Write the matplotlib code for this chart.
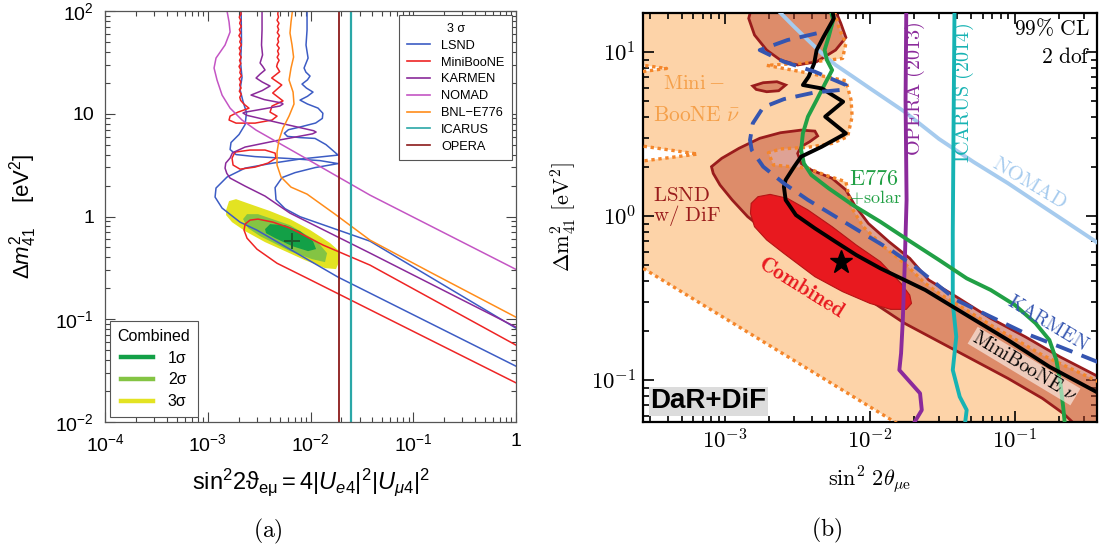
import numpy as np
import matplotlib
matplotlib.use("Agg")
import matplotlib.pyplot as plt
from matplotlib.lines import Line2D
from matplotlib.ticker import NullFormatter

plt.rcParams['font.family'] = ['Liberation Sans', 'DejaVu Sans']
plt.rcParams['mathtext.fontset'] = 'custom'
plt.rcParams['mathtext.rm'] = 'Liberation Sans'
plt.rcParams['mathtext.it'] = 'Liberation Sans:italic'
plt.rcParams['mathtext.bf'] = 'Liberation Sans:bold'

# Every curve below is a list of (log10 sin^2 2theta, log10 dm^2_41 / eV^2) pairs.

# ---------------- panel (a): 3 sigma regions ----------------
COMB_3S = [(-2.822, 0.062), (-2.793, 0.150), (-2.725, 0.169), (-2.589, 0.121), (-2.394, 0.053),
           (-2.200, -0.025), (-2.005, -0.131), (-1.810, -0.258), (-1.732, -0.327), (-1.723, -0.443),
           (-1.752, -0.512), (-1.859, -0.502), (-2.054, -0.425), (-2.248, -0.337), (-2.443, -0.249),
           (-2.637, -0.142), (-2.764, -0.055), (-2.822, 0.014)]
COMB_2S = [(-2.657, -0.025), (-2.618, 0.023), (-2.511, 0.023), (-2.200, -0.084), (-1.937, -0.240),
           (-1.839, -0.357), (-1.859, -0.444), (-1.985, -0.415), (-2.200, -0.337), (-2.491, -0.191),
           (-2.608, -0.113)]
COMB_1S = [(-2.443, -0.123), (-2.394, -0.074), (-2.248, -0.084), (-2.102, -0.142), (-1.976, -0.240),
           (-1.946, -0.317), (-2.024, -0.337), (-2.180, -0.288), (-2.345, -0.210), (-2.433, -0.162)]
BEST_FIT_A = (-2.183, -0.24)

LSND_A = [(-2.676, 2.05), (-2.672, 1.693), (-2.681, 1.499), (-2.667, 1.353), (-2.686, 1.236),
          (-2.657, 1.119), (-2.623, 1.012), (-2.637, 0.895), (-2.696, 0.798), (-2.774, 0.720),
          (-2.783, 0.652), (-2.725, 0.603), (-2.540, 0.583), (-2.200, 0.564), (-1.908, 0.544),
          (-1.732, 0.515), (-1.956, 0.476), (-2.151, 0.427), (-2.277, 0.379), (-2.345, 0.281),
          (-2.336, 0.164), (-2.248, 0.076), (-2.102, -0.002), (-1.421, -0.240), (0.0, -1.087)]
LSND_B = [(-2.034, 2.05), (-2.034, 1.815), (-2.044, 1.669), (-2.024, 1.542), (-2.045, 1.49),
          (-2.063, 1.445), (-2.045, 1.405), (-2.005, 1.367), (-2.03, 1.33), (-2.083, 1.289),
          (-2.04, 1.25), (-1.976, 1.211), (-2.03, 1.17), (-2.102, 1.133), (-2.03, 1.095),
          (-1.927, 1.055), (-1.88, 1.005), (-1.885, 0.955), (-1.95, 0.91), (-2.102, 0.871),
          (-2.215, 0.845), (-2.255, 0.81), (-2.225, 0.78), (-2.10, 0.768), (-1.956, 0.76),
          (-1.85, 0.70), (-1.810, 0.666), (-1.732, 0.598), (-2.102, 0.559), (-2.365, 0.520),
          (-2.637, 0.471), (-2.813, 0.384), (-2.920, 0.277), (-2.929, 0.189), (-2.861, 0.082),
          (-2.686, -0.055), (-2.521, -0.133), (-1.732, -0.590), (0.0, -1.457)]

MB_TOP = [(-2.686, 2.05), (-2.676, 1.97), (-2.694, 1.94), (-2.679, 1.91), (-2.690, 1.88),
          (-2.674, 1.85), (-2.693, 1.82), (-2.680, 1.79), (-2.697, 1.76), (-2.677, 1.73),
          (-2.689, 1.70), (-2.673, 1.67), (-2.695, 1.64), (-2.681, 1.61), (-2.692, 1.58),
          (-2.675, 1.55), (-2.691, 1.52), (-2.678, 1.49), (-2.696, 1.46), (-2.680, 1.43),
          (-2.688, 1.40), (-2.672, 1.37), (-2.694, 1.34), (-2.679, 1.31), (-2.690, 1.28),
          (-2.676, 1.25), (-2.693, 1.22), (-2.674, 1.19), (-2.689, 1.16), (-2.680, 1.13),
          (-2.647, 1.093), (-2.599, 1.054), (-2.706, 1.016), (-2.783, 0.977), (-2.793, 0.939),
          (-2.725, 0.909), (-2.540, 0.909), (-2.375, 0.939), (-2.326, 0.977), (-2.394, 1.016),
          (-2.375, 1.075), (-2.268, 1.125), (-2.368, 1.202), (-2.280, 1.280), (-2.378, 1.348),
          (-2.300, 1.41), (-2.330, 1.46), (-2.322, 1.49), (-2.306, 1.52), (-2.325, 1.55),
          (-2.309, 1.58), (-2.321, 1.61), (-2.305, 1.64), (-2.327, 1.67), (-2.311, 1.70),
          (-2.320, 1.73), (-2.303, 1.76), (-2.324, 1.79), (-2.310, 1.82), (-2.322, 1.85),
          (-2.307, 1.88), (-2.326, 1.91), (-2.312, 1.94), (-2.319, 1.97), (-2.309, 2.05)]
MB_ISLAND = [(-2.735, 0.627), (-2.589, 0.647), (-2.443, 0.647), (-2.345, 0.617), (-2.336, 0.569),
             (-2.414, 0.520), (-2.540, 0.481), (-2.686, 0.461), (-2.754, 0.501), (-2.764, 0.569),
             (-2.735, 0.627)]
MB_BAND = [(0.0, -1.252), (-1.421, -0.473), (-1.878, -0.278), (-2.200, -0.113), (-2.365, -0.055),
           (-2.511, -0.025), (-2.589, -0.035), (-2.637, -0.074), (-2.647, -0.133), (-2.618, -0.211),
           (-2.521, -0.318), (-2.326, -0.455), (-2.034, -0.600), (0.0, -1.619)]

KARMEN_A = [(-2.472, 2.05), (-2.472, 1.815), (-2.477, 1.669), (-2.467, 1.572), (-2.491, 1.494),
            (-2.465, 1.46), (-2.443, 1.426), (-2.49, 1.387), (-2.530, 1.348), (-2.47, 1.309),
            (-2.394, 1.270), (-2.47, 1.226), (-2.579, 1.182), (-2.45, 1.138), (-2.28, 1.105),
            (-2.268, 1.095), (-2.30, 1.075), (-2.47, 1.045), (-2.64, 1.015), (-2.657, 1.007),
            (-2.62, 0.985), (-2.30, 0.91), (-1.97, 0.835), (-1.946, 0.822), (-1.98, 0.805),
            (-2.30, 0.745), (-2.637, 0.676), (-2.76, 0.62), (-2.783, 0.569), (-2.825, 0.52),
            (-2.832, 0.471), (-2.815, 0.42), (-2.783, 0.374), (-2.637, 0.296), (-2.443, 0.199),
            (-2.200, 0.033), (-1.421, -0.356), (0.0, -1.077)]
NOMAD_A = [(-2.822, 2.05), (-2.793, 1.893), (-2.783, 1.796), (-2.832, 1.669), (-2.920, 1.542),
           (-2.939, 1.445), (-2.910, 1.328), (-2.861, 1.182), (-2.783, 1.055), (-2.667, 0.939),
           (-2.530, 0.841), (-2.102, 0.598), (-1.421, 0.208), (0.0, -0.515)]
E776_A = [(-2.170, 2.05), (-2.190, 1.893), (-2.200, 1.786), (-2.180, 1.669), (-2.165, 1.552),
          (-2.190, 1.445), (-2.209, 1.328), (-2.170, 1.211), (-2.161, 1.095), (-2.209, 0.978),
          (-2.268, 0.861), (-2.307, 0.744), (-2.326, 0.627), (-2.326, 0.500), (-2.287, 0.384),
          (-2.190, 0.286), (-2.034, 0.218), (-1.762, 0.023), (-1.421, -0.230), (-0.837, -0.541),
          (0.0, -0.980)]
OPERA_A = 0.0191
ICARUS_A = 0.0246

# ---------------- panel (b): 99% CL, DaR+DiF ----------------
R_MB_NUBAR = [(-3.7, 1.3), (-2.262, 1.3), (-2.210, 1.134), (-2.167, 1.053), (-2.190, 0.961),
              (-2.476, 0.931), (-2.714, 0.919), (-2.476, 0.880), (-2.167, 0.825), (-2.131, 0.707),
              (-2.124, 0.606), (-2.155, 0.484), (-2.262, 0.443), (-2.429, 0.419), (-2.619, 0.409),
              (-2.702, 0.386), (-2.667, 0.311), (-2.429, 0.291), (-2.310, 0.250), (-2.167, 0.209),
              (-2.131, 0.057), (-2.048, -0.065), (-1.905, -0.187), (-1.762, -0.289), (-1.619, -0.411),
              (-1.524, -0.472), (-1.167, -0.665), (-0.810, -0.848), (-0.40, -1.02), (-0.40, -1.30),
              (-1.748, -1.30), (-3.7, -0.247), (-3.7, 0.321), (-3.190, 0.378), (-3.7, 0.443),
              (-3.7, 0.866), (-3.405, 0.900), (-3.7, 0.935)]
R_LSND_TOP = [(-2.838, 1.205), (-2.81, 1.30), (-2.262, 1.30), (-2.202, 1.175), (-2.167, 1.089),
              (-2.238, 1.012), (-2.369, 0.941), (-2.5, 0.921), (-2.619, 0.951), (-2.714, 1.012),
              (-2.798, 1.104)]
R_LSND_ISLAND = [(-2.810, 0.793), (-2.738, 0.813), (-2.643, 0.819), (-2.583, 0.799), (-2.631, 0.764),
                 (-2.714, 0.758), (-2.786, 0.772)]
R_LSND_BAND = [(-3.095, 0.301), (-3.024, 0.352), (-2.905, 0.413), (-2.762, 0.474), (-2.619, 0.508),
               (-2.476, 0.524), (-2.381, 0.518), (-2.362, 0.488), (-2.417, 0.453), (-2.476, 0.423),
               (-2.5, 0.382), (-2.476, 0.321), (-2.405, 0.280), (-2.262, 0.230), (-2.167, 0.159),
               (-2.107, 0.067), (-2.012, -0.045), (-1.869, -0.157), (-1.726, -0.258), (-1.595, -0.390),
               (-1.405, -0.492), (-1.167, -0.624), (-0.929, -0.736), (-0.690, -0.858), (-0.40, -0.99),
               (-0.40, -1.30), (-0.55, -1.30), (-0.667, -1.203), (-0.810, -1.112), (-1.048, -0.990),
               (-1.286, -0.878), (-1.524, -0.766), (-1.762, -0.654), (-1.952, -0.543), (-2.119, -0.441),
               (-2.286, -0.329), (-2.429, -0.258), (-2.571, -0.177), (-2.714, -0.096), (-2.845, -0.004),
               (-2.952, 0.098), (-3.036, 0.189), (-3.083, 0.260)]
R_COMBINED = [(-2.821, 0.077), (-2.774, 0.118), (-2.690, 0.132), (-2.571, 0.108), (-2.429, 0.037),
              (-2.262, -0.065), (-2.095, -0.177), (-1.929, -0.278), (-1.786, -0.411), (-1.726, -0.482),
              (-1.714, -0.533), (-1.750, -0.569), (-1.857, -0.569), (-2.0, -0.533), (-2.190, -0.461),
              (-2.381, -0.370), (-2.595, -0.228), (-2.714, -0.146), (-2.798, -0.065), (-2.826, 0.016)]
BEST_FIT_B = (-2.202, -0.278)

R_NOMAD = [(-2.643, 1.26), (-2.524, 1.154), (-2.429, 1.073), (-2.333, 0.992), (-2.238, 0.921),
           (-2.119, 0.850), (-2.0, 0.778), (-1.762, 0.636), (-1.524, 0.47), (-1.286, 0.33),
           (-1.048, 0.20), (-0.810, 0.06), (-0.571, -0.08), (-0.40, -0.18)]
R_OPERA = [(-1.75, 1.26), (-1.755, 0.707), (-1.748, 0.098), (-1.762, -0.329), (-1.774, -0.634),
           (-1.786, -0.837), (-1.798, -0.939), (-1.655, -1.081), (-1.643, -1.183), (-1.702, -1.27)]
R_ICARUS = [(-1.417, 1.26), (-1.424, 0.504), (-1.429, -0.106), (-1.429, -0.533), (-1.405, -0.736),
            (-1.429, -0.939), (-1.381, -1.102), (-1.333, -1.183), (-1.345, -1.27)]
R_E776 = [(-2.274, 1.26), (-2.255, 1.195), (-2.286, 1.093), (-2.314, 1.012), (-2.298, 0.951),
          (-2.262, 0.890), (-2.310, 0.809), (-2.369, 0.707), (-2.429, 0.606), (-2.464, 0.504),
          (-2.476, 0.402), (-2.457, 0.321), (-2.405, 0.250), (-2.286, 0.169), (-2.119, 0.067),
          (-1.929, -0.035), (-1.738, -0.146), (-1.524, -0.268), (-1.333, -0.380), (-1.167, -0.451),
          (-1.0, -0.543), (-0.857, -0.654), (-0.762, -0.756), (-0.714, -0.878), (-0.686, -1.020),
          (-0.667, -1.163), (-0.655, -1.27)]
R_MB_NU = [(-2.262, 1.26), (-2.25, 1.205), (-2.321, 1.093), (-2.369, 1.012), (-2.386, 0.931),
           (-2.424, 0.850), (-2.464, 0.799), (-2.333, 0.778), (-2.186, 0.697), (-2.310, 0.606),
           (-2.167, 0.504), (-2.333, 0.423), (-2.476, 0.362), (-2.524, 0.301), (-2.583, 0.220),
           (-2.595, 0.179), (-2.583, 0.098), (-2.512, 0.006), (-2.381, -0.075), (-2.238, -0.157),
           (-2.095, -0.238), (-1.929, -0.319), (-1.619, -0.451), (-1.429, -0.553), (-1.048, -0.756),
           (-0.762, -0.919), (-0.40, -1.09)]
R_KARMEN = [(-2.369, 1.114), (-2.571, 1.073), (-2.762, 1.012), (-2.595, 0.941), (-2.381, 0.880),
            (-2.167, 0.799), (-2.167, 0.772), (-2.381, 0.754), (-2.595, 0.713), (-2.738, 0.663),
            (-2.810, 0.565), (-2.829, 0.463), (-2.817, 0.402), (-2.738, 0.301), (-2.595, 0.199),
            (-2.429, 0.098), (-2.238, -0.004), (-2.048, -0.106), (-1.857, -0.207), (-1.690, -0.309),
            (-1.405, -0.512), (-1.167, -0.614), (-0.929, -0.715), (-0.690, -0.797), (-0.40, -0.90)]

C_LSND, C_MB, C_KARMEN, C_NOMAD = '#3c5cc4', '#ee2424', '#8a2a9a', '#c455c4'
C_E776, C_ICARUS, C_OPERA = '#ff8c1a', '#2aa7a7', '#8b1a1a'
C_1S, C_2S, C_3S = '#13a047', '#84c443', '#e3e322'


def lg(pairs):
    a = np.asarray(pairs, dtype=float)
    return 10 ** a[:, 0], 10 ** a[:, 1]


fig = plt.figure(figsize=(11.01, 5.51), dpi=100)

# ---------- (a) ----------
ax1 = fig.add_axes([0.0954, 0.2341, 0.3733, 0.7459])
ax1.set_xscale('log')
ax1.set_yscale('log')

ax1.fill(*lg(COMB_3S), color=C_3S, lw=0, zorder=1)
ax1.fill(*lg(COMB_2S), color=C_2S, lw=0, zorder=1)
ax1.fill(*lg(COMB_1S), color=C_1S, lw=0, zorder=1)
ax1.plot(*lg([BEST_FIT_A]), marker='+', ms=12, mew=1.4, color='#1d5a2c', zorder=4)

for pts, col in [(LSND_A, C_LSND), (LSND_B, C_LSND), (MB_TOP, C_MB), (MB_ISLAND, C_MB),
                 (MB_BAND, C_MB), (KARMEN_A, C_KARMEN), (NOMAD_A, C_NOMAD), (E776_A, C_E776)]:
    ax1.plot(*lg(pts), color=col, lw=1.1, zorder=2)
ax1.axvline(OPERA_A, color=C_OPERA, lw=1.3, zorder=2)
ax1.axvline(ICARUS_A, color=C_ICARUS, lw=1.6, zorder=2)

ax1.set_xlim(1e-4, 1)
ax1.set_ylim(1e-2, 1e2)
ax1.set_xticks([1e-4, 1e-3, 1e-2, 1e-1, 1],
               [r'$10^{-4}$', r'$10^{-3}$', r'$10^{-2}$', r'$10^{-1}$', '1'])
ax1.set_yticks([1e-2, 1e-1, 1, 10, 100],
               [r'$10^{-2}$', r'$10^{-1}$', '1', '10', r'$10^{2}$'])
ax1.xaxis.set_minor_formatter(NullFormatter())
ax1.yaxis.set_minor_formatter(NullFormatter())
ax1.tick_params(which='both', direction='in', top=True, right=True, color='#444444',
                labelsize=14, width=0.8)
ax1.tick_params(which='major', length=7, pad=8)
ax1.tick_params(which='minor', length=3.5)
for sp in ax1.spines.values():
    sp.set_color('#555555')
    sp.set_linewidth(0.9)
ax1.set_xlabel(r'$\mathrm{sin^22\vartheta_{e\mu} = 4|}U_{e4}\mathrm{|^2|}U_{\mu 4}\mathrm{|^2}$',
               fontsize=17, labelpad=8)
ax1.set_ylabel(r'$\Delta m^2_{41}$    [eV$^2$]', fontsize=16, labelpad=12)

names = ['LSND', 'MiniBooNE', 'KARMEN', 'NOMAD', 'BNL\u2212E776', 'ICARUS', 'OPERA']
cols = [C_LSND, C_MB, C_KARMEN, C_NOMAD, C_E776, C_ICARUS, C_OPERA]
leg = ax1.legend([Line2D([], [], color=c, lw=1.2) for c in cols], names, title='3 \u03c3',
                 loc='upper right', bbox_to_anchor=(0.990, 0.990), borderaxespad=0,
                 fontsize=9.2, title_fontsize=9, fancybox=False, edgecolor='#555555',
                 framealpha=1, handlelength=1.8, handletextpad=0.85, labelspacing=0.38,
                 borderpad=0.6)
leg.get_frame().set_linewidth(0.8)
ax1.add_artist(leg)
leg2 = ax1.legend([Line2D([], [], color=c, lw=3.2) for c in (C_1S, C_2S, C_3S)],
                  ['1\u03c3', '2\u03c3', '3\u03c3'], title='Combined',
                  loc='lower left', bbox_to_anchor=(0.011, 0.012), borderaxespad=0,
                  fontsize=11.5, title_fontsize=11.5, fancybox=False, edgecolor='#555555',
                  framealpha=1, handlelength=2.0, handletextpad=0.9, labelspacing=0.42,
                  borderpad=0.5)
leg2.get_frame().set_linewidth(0.8)

# ---------- (b) ----------
ax2 = fig.add_axes([0.5840, 0.2341, 0.4124, 0.7423])
ax2.set_xscale('log')
ax2.set_yscale('log')

ax2.fill(*lg(R_MB_NUBAR), color='#fdd3a8', lw=0, zorder=1)
lsnd_face = (190 / 255, 70 / 255, 45 / 255, 0.5)
for pts in (R_LSND_TOP, R_LSND_ISLAND, R_LSND_BAND):
    ax2.fill(*lg(pts), facecolor=lsnd_face, edgecolor='#9a1c1c', lw=2.0, zorder=2)
ax2.fill(*lg(R_COMBINED), facecolor='#e8191f', edgecolor='#b51515', lw=0.8, zorder=3)
ax2.plot(*lg(R_MB_NUBAR + R_MB_NUBAR[:1]), color='#f4862b', lw=2.4, ls=(0, (1, 1.1)), zorder=4)

ax2.plot(*lg(R_NOMAD), color='#a6cbee', lw=2.8, zorder=5)
ax2.plot(*lg(R_OPERA), color='#8b2a9b', lw=2.8, zorder=5)
ax2.plot(*lg(R_ICARUS), color='#17b3b3', lw=2.8, zorder=5)
ax2.plot(*lg(R_E776), color='#21a045', lw=2.8, zorder=5)
ax2.plot(*lg(R_MB_NU), color='black', lw=2.8, zorder=5)
ax2.plot(*lg(R_KARMEN), color='#3555b0', lw=2.8, ls=(0, (4.5, 2.5)), zorder=5)
ax2.plot(*lg([BEST_FIT_B]), marker='*', ms=17, color='black', zorder=6)

ax2.set_xlim(2.704e-4, 0.369)
ax2.set_ylim(0.05546, 17.3)
ax2.set_xticks([1e-3, 1e-2, 1e-1], [r'$10^{-3}$', r'$10^{-2}$', r'$10^{-1}$'])
ax2.set_yticks([1e-1, 1, 10], [r'$10^{-1}$', r'$10^{0}$', r'$10^{1}$'])
ax2.xaxis.set_minor_formatter(NullFormatter())
ax2.yaxis.set_minor_formatter(NullFormatter())
for lab in ax2.get_xticklabels() + ax2.get_yticklabels():
    lab.set_math_fontfamily('cm')
ax2.tick_params(which='both', direction='in', top=True, right=True, labelsize=16.5, width=1.2)
ax2.tick_params(which='major', length=8, pad=5)
ax2.tick_params(which='minor', length=4.5)
for sp in ax2.spines.values():
    sp.set_linewidth(1.6)
ax2.set_xlabel(r'$\sin^2\, 2\theta_{\mu\mathrm{e}}$', fontsize=16, labelpad=8, math_fontfamily='cm')
ax2.set_ylabel(r'$\Delta\mathrm{m}^2_{41}\ [\mathrm{eV}^2]$', fontsize=16, labelpad=9,
               math_fontfamily='cm')


def rtext(lx, ly, s, **kw):
    kw.setdefault('math_fontfamily', 'cm')
    kw.setdefault('zorder', 7)
    ax2.text(10 ** lx, 10 ** ly, s, **kw)


rtext(-3.429, 0.809, r'$\mathrm{Mini-}$', color='#f5a04a', fontsize=15, ha='left', va='center')
rtext(-3.5, 0.616, r'$\mathrm{BooNE}\ \bar{\nu}$', color='#f5a04a', fontsize=15.5, ha='left', va='center')
rtext(-3.5, 0.128, r'$\mathrm{LSND}$', color='#9a1c1c', fontsize=15, ha='left', va='center')
rtext(-3.5, 0.006, r'$\mathrm{w/\ DiF}$', color='#9a1c1c', fontsize=15, ha='left', va='center')
rtext(-2.143, 0.225, r'$\mathrm{E776}$', color='#21a045', fontsize=16, ha='left', va='center')
rtext(-2.143, 0.113, r'$\mathrm{+solar}$', color='#21a045', fontsize=13, ha='left', va='center')
rtext(-2.477, -0.439, r'$\mathbf{Combined}$', color='#e8191f', fontsize=15.5, rotation=-32,
      ha='center', va='center', rotation_mode='anchor')
rtext(-0.771, -0.652, r'$\mathrm{KARMEN}$', color='#3555b0', fontsize=14, rotation=-31,
      ha='center', va='center', rotation_mode='anchor')
rtext(-0.937, -0.915, r'$\mathrm{MiniBooNE}\ \nu$', color='black', fontsize=14, rotation=-31,
      ha='center', va='center', rotation_mode='anchor',
      bbox=dict(facecolor='white', alpha=0.55, edgecolor='none', pad=0.5))
rtext(-0.896, 0.201, r'$\mathrm{NOMAD}$', color='#a6cbee', fontsize=15, rotation=-31,
      ha='center', va='center', rotation_mode='anchor')
rtext(-1.69, 0.78, r'$\mathrm{OPERA\ (2013)}$', color='#8b2a9b', fontsize=14.5, rotation=90,
      ha='center', va='center')
rtext(-1.355, 0.75, r'$\mathrm{ICARUS\ (2014)}$', color='#17b3b3', fontsize=14.5, rotation=90,
      ha='center', va='center')

ax2.text(0.985, 0.961, r'$\mathrm{99\%\ CL}$', transform=ax2.transAxes, fontsize=15.5,
         ha='right', va='center', math_fontfamily='cm', zorder=7)
ax2.text(0.985, 0.89, r'$\mathrm{2\ dof}$', transform=ax2.transAxes, fontsize=15.5,
         ha='right', va='center', math_fontfamily='cm', zorder=7)
ax2.text(0.016, 0.051, 'DaR+DiF', transform=ax2.transAxes, fontsize=20, fontweight='bold',
         ha='left', va='center', zorder=7,
         bbox=dict(facecolor='#dcdcdc', edgecolor='none', pad=1.0))

fig.text(0.2434, 0.0363, r'$\mathrm{(a)}$', fontsize=17, ha='center', va='center', math_fontfamily='cm')
fig.text(0.7511, 0.0381, r'$\mathrm{(b)}$', fontsize=17, ha='center', va='center', math_fontfamily='cm')

fig.savefig('out.png', dpi=100)
